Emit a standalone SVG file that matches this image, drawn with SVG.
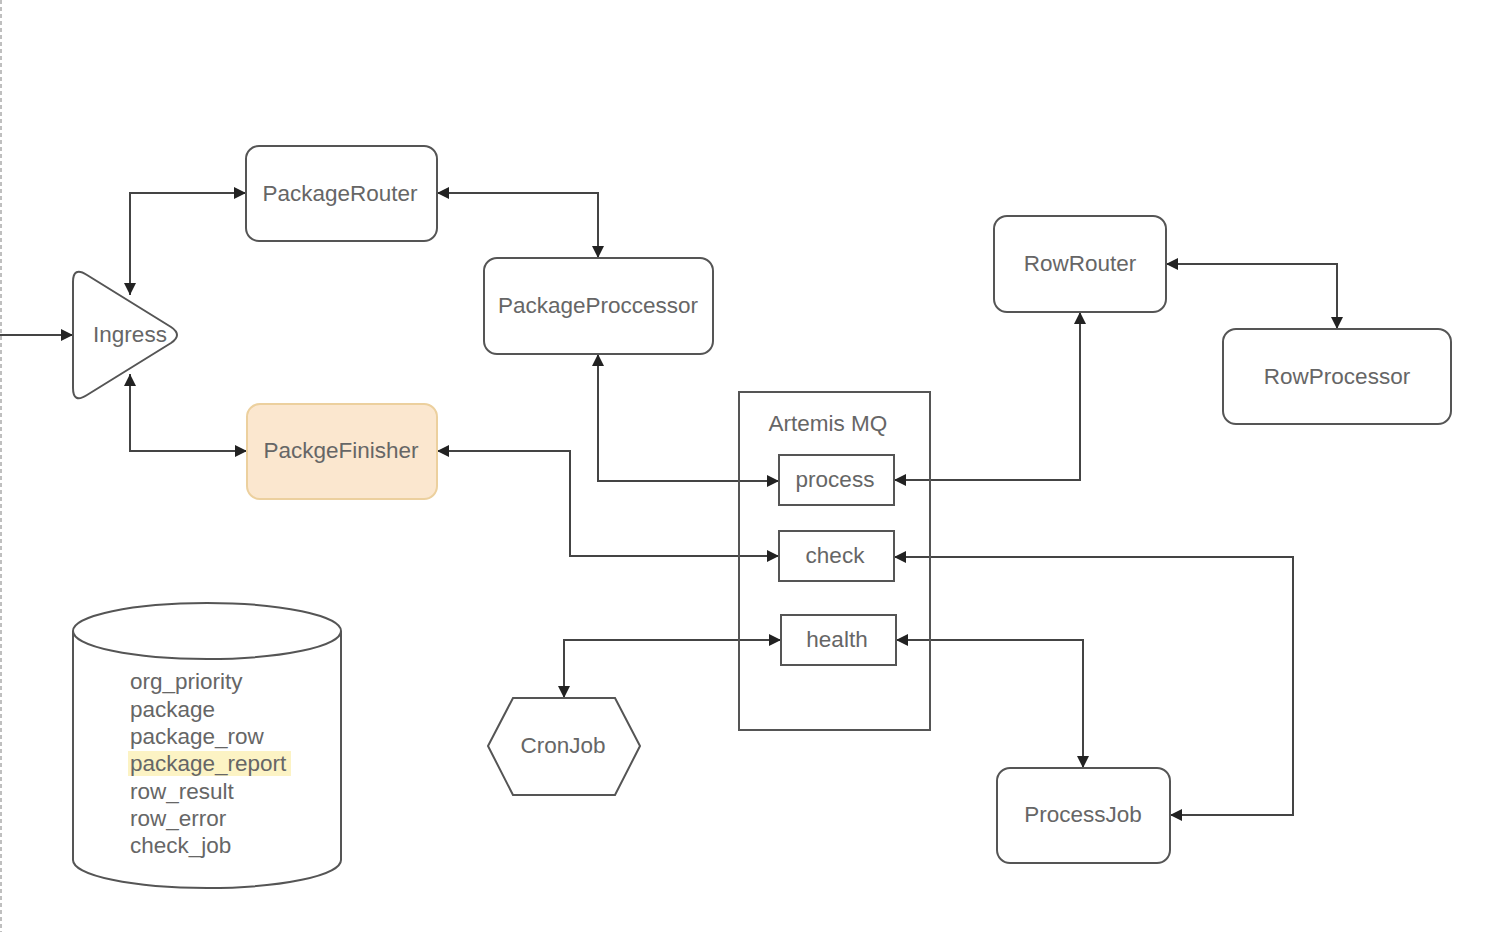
<svg xmlns="http://www.w3.org/2000/svg" width="1509" height="932" viewBox="0 0 1509 932">
<style>
.n{fill:#fff;stroke:#555;stroke-width:2}
.t{font-family:"Liberation Sans",Arial,sans-serif;font-size:22.5px;fill:#666;text-anchor:middle;dominant-baseline:central}
.d{font-family:"Liberation Sans",Arial,sans-serif;font-size:22.5px;fill:#666}
.c{fill:none;stroke:#444;stroke-width:2}
</style>
<defs>
<marker id="a" viewBox="0 0 10 10" refX="10" refY="5" markerWidth="12" markerHeight="12" markerUnits="userSpaceOnUse" orient="auto-start-reverse"><path d="M0,0 L10,5 L0,10 z" fill="#222"/></marker>
</defs>
<rect width="1509" height="932" fill="#fff"/>
<line x1="1" y1="0" x2="1" y2="932" stroke="#aaa" stroke-width="1.5" stroke-dasharray="4,3"/>
<g id="connectors">
<path class="c" d="M0,335 H73" marker-end="url(#a)"/>
<path class="c" d="M130,295 V193 H246" marker-start="url(#a)" marker-end="url(#a)"/>
<path class="c" d="M130,374 V451 H247" marker-start="url(#a)" marker-end="url(#a)"/>
<path class="c" d="M437,193 H598 V258" marker-start="url(#a)" marker-end="url(#a)"/>
<path class="c" d="M598,354 V481 H779" marker-start="url(#a)" marker-end="url(#a)"/>
<path class="c" d="M437,451 H570 V556 H779" marker-start="url(#a)" marker-end="url(#a)"/>
<path class="c" d="M564,698 V640 H781" marker-start="url(#a)" marker-end="url(#a)"/>
<path class="c" d="M894,480 H1080 V312" marker-start="url(#a)" marker-end="url(#a)"/>
<path class="c" d="M1166,264 H1337 V329" marker-start="url(#a)" marker-end="url(#a)"/>
<path class="c" d="M894,557 H1293 V815 H1170" marker-start="url(#a)" marker-end="url(#a)"/>
<path class="c" d="M896,640 H1083 V768" marker-start="url(#a)" marker-end="url(#a)"/>
</g>
<g id="ingress">
<path class="n" d="M73,282 Q73,266 87,275 L171,327 Q183,335 171,343 L87,395 Q73,404 73,388 Z"/>
<text class="t" x="130" y="334">Ingress</text>
</g>
<g id="packageRouter">
<rect class="n" x="246" y="146" width="191" height="95" rx="13"/>
<text class="t" x="340" y="193">PackageRouter</text>
</g>
<g id="packageProccessor">
<rect class="n" x="484" y="258" width="229" height="96" rx="13"/>
<text class="t" x="598" y="305">PackageProccessor</text>
</g>
<g id="packgeFinisher">
<rect x="247" y="404" width="190" height="95" rx="13" fill="#fbe7cf" stroke="#ecd09e" stroke-width="2"/>
<text class="t" x="341" y="450">PackgeFinisher</text>
</g>
<g id="rowRouter">
<rect class="n" x="994" y="216" width="172" height="96" rx="13"/>
<text class="t" x="1080" y="263">RowRouter</text>
</g>
<g id="rowProcessor">
<rect class="n" x="1223" y="329" width="228" height="95" rx="13"/>
<text class="t" x="1337" y="376">RowProcessor</text>
</g>
<g id="artemisMQ">
<rect x="739" y="392" width="191" height="338" fill="none" stroke="#555" stroke-width="2"/>
<text class="t" x="828" y="423">Artemis MQ</text>
</g>
<g id="process">
<rect class="n" x="779" y="455" width="115" height="50"/>
<text class="t" x="835" y="479">process</text>
</g>
<g id="check">
<rect class="n" x="779" y="531" width="115" height="50"/>
<text class="t" x="835" y="555">check</text>
</g>
<g id="health">
<rect class="n" x="781" y="615" width="115" height="50"/>
<text class="t" x="837" y="639">health</text>
</g>
<g id="cronJob">
<path class="n" d="M488,746 L513,698 L615,698 L640,746 L615,795 L513,795 Z"/>
<text class="t" x="563" y="745">CronJob</text>
</g>
<g id="processJob">
<rect class="n" x="997" y="768" width="173" height="95" rx="13"/>
<text class="t" x="1083" y="814">ProcessJob</text>
</g>
<g id="database">
<path class="n" d="M73,631 V860 A134,28 0 0 0 341,860 V631"/>
<ellipse class="n" cx="207" cy="631" rx="134" ry="28"/>
<rect x="128" y="751" width="163" height="25" fill="#fcf3c4"/>
<text class="d" x="130" y="689">org_priority</text>
<text class="d" x="130" y="717">package</text>
<text class="d" x="130" y="744">package_row</text>
<text class="d" x="130" y="771">package_report</text>
<text class="d" x="130" y="799">row_result</text>
<text class="d" x="130" y="826">row_error</text>
<text class="d" x="130" y="853">check_job</text>
</g>
</svg>
